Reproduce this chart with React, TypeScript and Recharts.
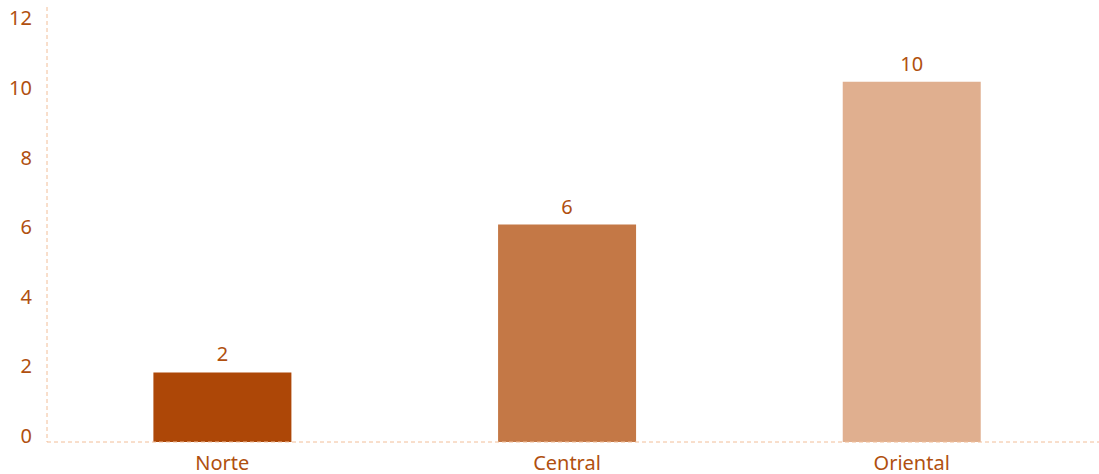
import { Bar, BarChart, XAxis, YAxis, Cell, LabelList } from "recharts";

const regions = ["Norte", "Central", "Oriental"];
const counts = [2.0, 6.25, 10.35];
const barColors = ["#AD4707", "#C47846", "#E0AF8F"];
const yTicks = [0, 2, 4, 6, 8, 10, 12];

const data = regions.map((r, i) => ({ region: r, count: counts[i] }));

const textColor = "#B0500F";
const axisColor = "#F2BE98";
const font = "'Noto Sans', sans-serif";

function YTick(props: any) {
    const { y, payload } = props;
    return (
        <text x={32} y={y} dy={1} textAnchor="end" fill={textColor} fontSize={20} fontFamily={font}>
            {payload.value}
        </text>
    );
}

function XTick(props: any) {
    const { x, y, payload } = props;
    return (
        <text x={x} y={y} dy={19.5} textAnchor="middle" fill={textColor} fontSize={20} fontFamily={font}>
            {payload.value}
        </text>
    );
}

export default function App() {
    return (
        <div style={{ position: "absolute", left: 0, top: 0 }}>
            <BarChart width={1099} height={474} data={data} margin={{ top: 7, right: 0, bottom: 2, left: 0 }} barCategoryGap="30%">
                <XAxis
                    dataKey="region"
                    axisLine={{ stroke: axisColor, strokeDasharray: "4 3" }}
                    tickLine={false}
                    tick={<XTick />}
                    height={30}
                    padding={{ left: 3, right: 15 }}
                />
                <YAxis
                    domain={[0, 12.5]}
                    ticks={yTicks}
                    axisLine={{ stroke: axisColor, strokeDasharray: "4 3" }}
                    tickLine={false}
                    tick={<YTick />}
                    width={47}
                    interval={0}
                />
                <Bar dataKey="count" isAnimationActive={false}>
                    {data.map((d, i) => (
                        <Cell key={d.region} fill={barColors[i]} />
                    ))}
                    <LabelList
                        dataKey="count"
                        position="top"
                        offset={11}
                        fill={textColor}
                        fontSize={20}
                        fontFamily={font}
                        formatter={(v: any) => Math.round(Number(v))}
                    />
                </Bar>
            </BarChart>
        </div>
    );
}
